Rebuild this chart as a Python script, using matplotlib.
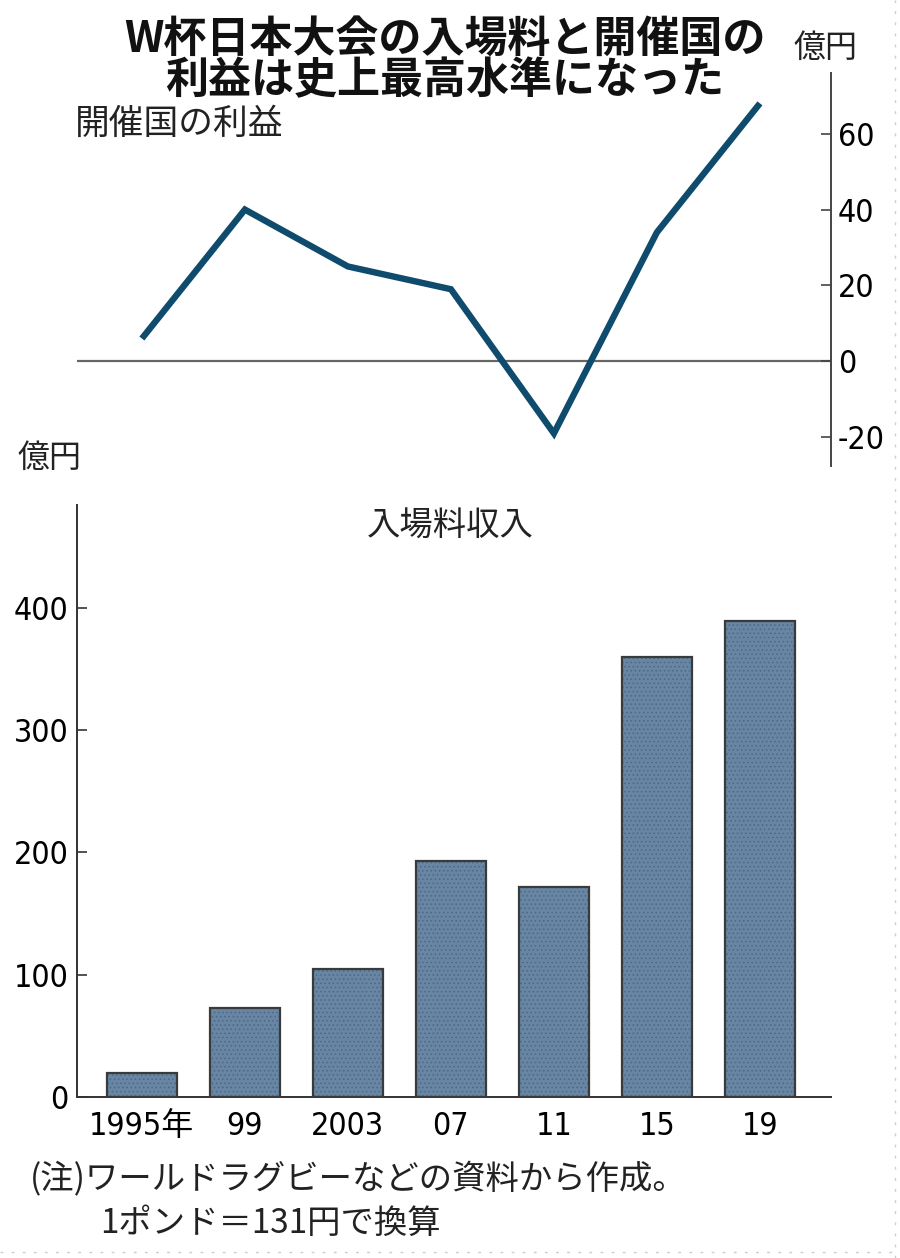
import matplotlib
matplotlib.use("Agg")
import matplotlib.pyplot as plt
from matplotlib.lines import Line2D

plt.rcParams['font.family'] = ['Noto Sans CJK JP', 'DejaVu Sans']
plt.rcParams['hatch.linewidth'] = 0.6

# data
years = ["1995年", "99", "2003", "07", "11", "15", "19"]
profit = [6, 40, 25, 19, -19, 34, 68]          # 開催国の利益 (億円)
ticket = [20, 73, 105, 193, 172, 360, 389]     # 入場料収入 (億円)
profit_ticks = [-20, 0, 20, 40, 60]
ticket_ticks = [0, 100, 200, 300, 400]

num_font = ['Liberation Sans Narrow', 'DejaVu Sans', 'Noto Sans CJK JP']
line_color = '#0e4b6c'
bar_color = '#6886a3'
hatch_color = '#4c6885'
axis_color = '#333333'

W, H = 900, 1258
fig = plt.figure(figsize=(W / 100, H / 100), dpi=100)

def fx(px):
    return px / W

def fy(py):
    return 1 - py / H

x = list(range(len(years)))
xlim = (-0.63, 6.69)

# top: host country profit (line)
ax1 = fig.add_axes([fx(77), fy(466), fx(831) - fx(77), fy(73) - fy(466)])
ax1.plot(x, profit, color=line_color, lw=4.6, solid_capstyle='butt', solid_joinstyle='miter')
ax1.axhline(0, color='#666666', lw=1.6, zorder=0)
ax1.set_xlim(*xlim)
ax1.set_ylim(-27.6, 76)
for s in ['top', 'left', 'bottom']:
    ax1.spines[s].set_visible(False)
ax1.spines['right'].set_color('#444444')
ax1.spines['right'].set_linewidth(1.4)
ax1.yaxis.tick_right()
ax1.set_yticks(profit_ticks)
ax1.set_yticklabels([str(v) for v in profit_ticks], family=num_font, fontstretch='condensed',
                    fontsize=23)
ax1.tick_params(axis='y', direction='in', length=7, width=1.2, color='#444444', pad=5)
ax1.set_xticks([])

# bottom: ticket revenue (bars)
ax2 = fig.add_axes([fx(77), fy(1097), fx(831) - fx(77), fy(505) - fy(1097)])
ax2.bar(x, ticket, width=0.68, color=bar_color, edgecolor=hatch_color, hatch='....', lw=0, zorder=2)
ax2.bar(x, ticket, width=0.68, facecolor='none', edgecolor='#3a3a3a', lw=1.6, zorder=3)
ax2.set_xlim(*xlim)
ax2.set_ylim(0, 484)
for s in ['top', 'right']:
    ax2.spines[s].set_visible(False)
for s in ['left', 'bottom']:
    ax2.spines[s].set_color(axis_color)
    ax2.spines[s].set_linewidth(1.4)
ax2.set_yticks(ticket_ticks)
ax2.set_yticklabels([str(v) for v in ticket_ticks], family=num_font, fontstretch='condensed',
                    fontsize=23)
ax2.tick_params(axis='y', direction='in', length=7, width=1.2, color=axis_color, pad=6)
ax2.set_xticks(x)
ax2.set_xticklabels(years, family=num_font, fontstretch='condensed', fontsize=23)
ax2.tick_params(axis='x', length=0, pad=10)

# texts
fig.text(fx(445), fy(59), "W杯日本大会の入場料と開催国の\n利益は史上最高水準になった",
         ha='center', va='center', ma='center', linespacing=0.93,
         fontsize=31, fontweight='bold', color='#111111')
fig.text(fx(75), fy(124), "開催国の利益", ha='left', va='center', fontsize=25, color='#222222')
fig.text(fx(793), fy(48), "億円", ha='left', va='center', fontsize=23, color='#222222')
fig.text(fx(17), fy(458), "億円", ha='left', va='center', fontsize=23, color='#222222')
fig.text(fx(450), fy(525), "入場料収入", ha='center', va='center', fontsize=24, color='#222222')
fig.text(fx(30), fy(1180), "(注)ワールドラグビーなどの資料から作成。", ha='left', va='center',
         fontsize=24, color='#222222')
fig.text(fx(100), fy(1223), "1ポンド＝131円で換算", ha='left', va='center',
         fontsize=24, color='#222222')

# dotted frame edges
fig.add_artist(Line2D([fx(895), fx(895)], [0, 1], transform=fig.transFigure,
                      color='#cccccc', lw=1, ls=(0, (2, 6))))
fig.add_artist(Line2D([0, 1], [fy(1252), fy(1252)], transform=fig.transFigure,
                      color='#cccccc', lw=1, ls=(0, (2, 6))))

fig.savefig("out.png", dpi=100)
